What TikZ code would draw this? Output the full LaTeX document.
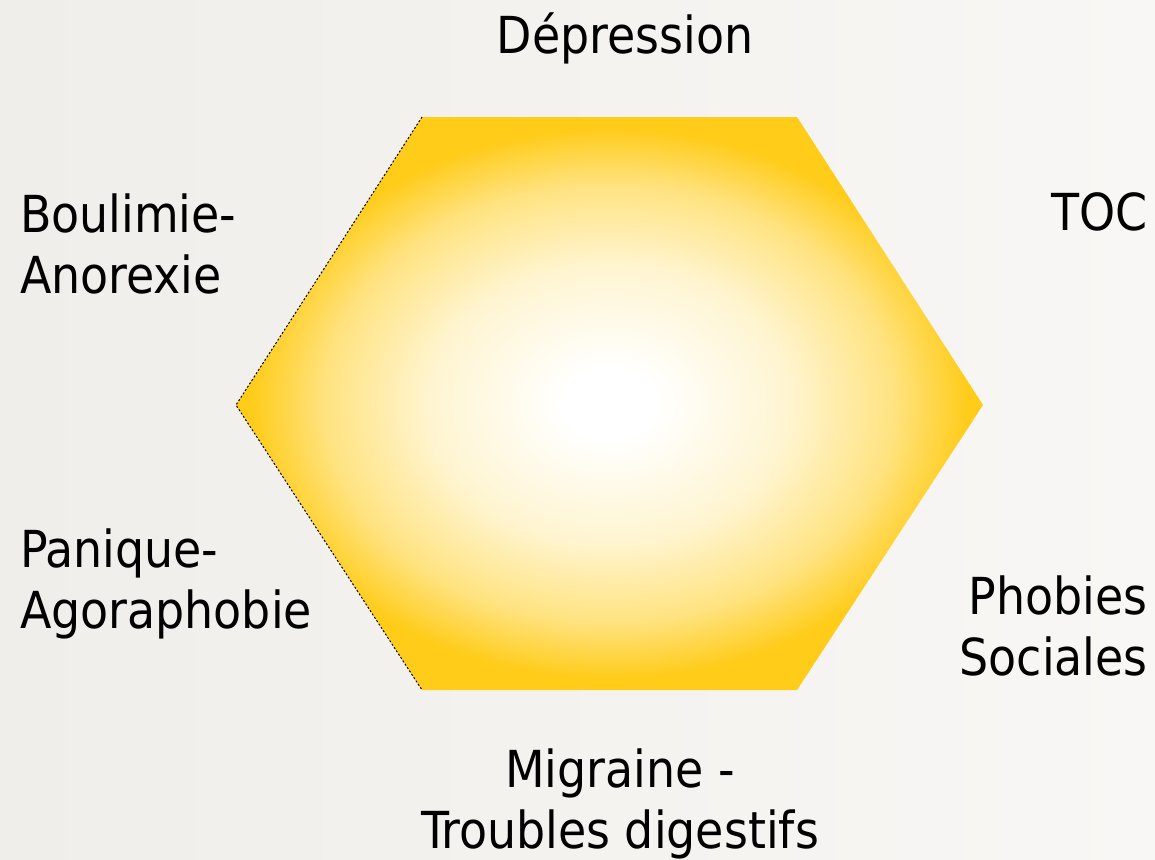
\documentclass[tikz,border=0pt]{standalone}
\usepackage{fontspec}
\setmainfont{DejaVu Sans Condensed}
\usepackage{xcolor}
\usepackage{tikz}
\usetikzlibrary{positioning,calc}
\definecolor{hexyellow}{RGB}{255,204,26}
\definecolor{bgleft}{RGB}{239,238,234}
\definecolor{bgright}{RGB}{248,247,245}
\pgfdeclareradialshading{hexglow}{\pgfpoint{0bp}{0bp}}{%
  color(0bp)=(white); color(3bp)=(white); color(12bp)=(hexyellow!20);
  color(19bp)=(hexyellow!55); color(24bp)=(hexyellow); color(50bp)=(hexyellow)}

\begin{document}
\begin{tikzpicture}[
  x=1pt,y=-1pt,
  label/.style={inner sep=0pt,font=\fontsize{51}{61}\selectfont,text=black},
  rim/.style={line width=1pt,black,dash pattern=on 2pt off 2pt}]
\useasboundingbox (0,0) rectangle (1155,859);
\fill[left color=bgleft,right color=bgright] (0,0) rectangle (1155,859);
% hexagon
\coordinate (tl) at (422,117);
\coordinate (tr) at (797,117);
\coordinate (r) at (983,405);
\coordinate (br) at (797,690);
\coordinate (bl) at (422,690);
\coordinate (l) at (236,405);
\path[shading=hexglow] (tl)--(tr)--(r)--(br)--(bl)--(l)--cycle;
\draw[rim] (tl)--(l)--(bl);
% labels (base = last line)
\node[label,anchor=base] (dep) at (625,53) {Dépression};
\node[label,anchor=base east] (toc) at (1148,230) {TOC};
\node[label,align=left,anchor=base west] (bou) at (20,293) {Boulimie-\\Anorexie};
\node[label,align=left,anchor=base west] (pan) at (20,628) {Panique-\\Agoraphobie};
\node[label,align=right,anchor=base east] (pho) at (1148,675) {Phobies\\Sociales};
\node[label,align=center,anchor=base] (mig) at (620,848) {Migraine -\\Troubles digestifs};
\end{tikzpicture}
\end{document}
